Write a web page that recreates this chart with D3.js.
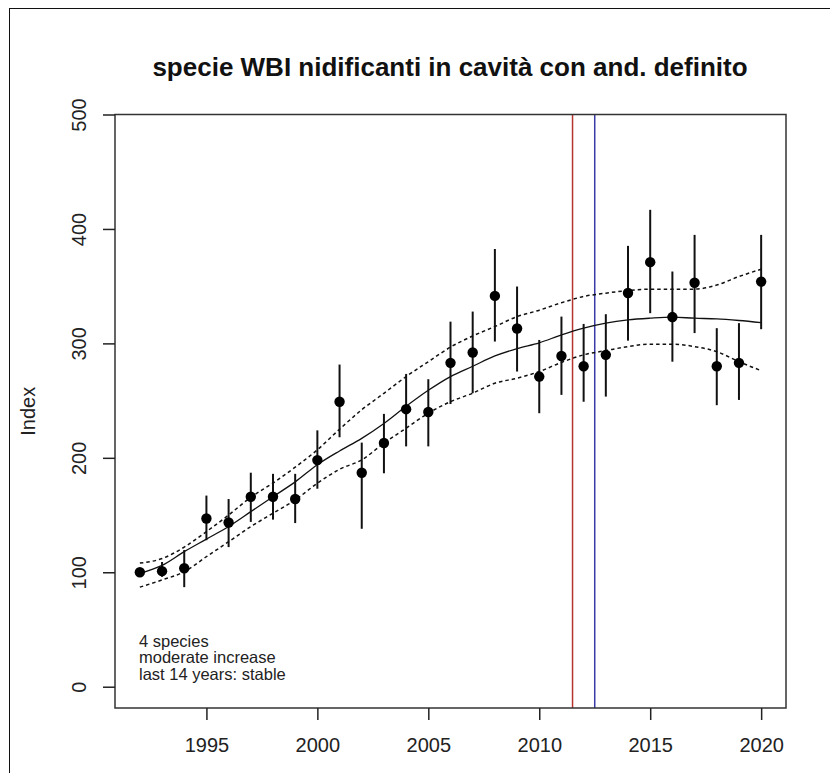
<!DOCTYPE html>
<html>
<head>
<meta charset="utf-8">
<script src="https://cdn.jsdelivr.net/npm/d3@7"></script>
<style>
  body { margin: 0; background: #fff; }
  svg { display: block; font-family: "Liberation Sans", Arial, sans-serif; }
</style>
</head>
<body>
<svg id="chart" width="830" height="773"></svg>
<script>
// index values
var years = [1992,1993,1994,1995,1996,1997,1998,1999,2000,2001,2002,2003,2004,2005,2006,2007,2008,2009,2010,2011,2012,2013,2014,2015,2016,2017,2018,2019,2020];
var index = [100,101,103.5,147,143.5,166,166,164,198,249,187,213,242.5,240,283,292,341.5,313,271,289,280,290,344,371,323,353,280,283,354];
var lower = [100,96,87,128,122,144,146,143,173,218,138,186.5,210,210,247,256.5,301.6,275.4,239,255,249,253.5,302.4,326.4,284,309,246,250.6,312.4];
var upper = [100,109,119.5,167,164,187,186,186,224,281.5,213.3,238.4,273.3,268.7,319,327.8,382.5,349.7,303,323.4,317,325.5,385.2,416.7,362.8,394.8,313.3,317.7,394.8];

// smoothed trend and its band
var trend     = [99,106,118,129,140,153,166,179,194,206,217,230,245,259,271,280,289,295.5,300.5,307.4,313.3,317.7,320.5,322,322.9,322,321.4,320,318.2];
var bandUpper = [108,112,122,135.5,150,165.5,178,191.8,207,225,242,256.4,271,284,296.7,306.5,314.7,323.4,329,335.5,341,343.9,346.2,347.4,347.4,347.4,351,358.4,364.8];
var bandLower = [87,93.3,100.5,113.6,126.7,139.9,151.6,163.2,177.8,190,198.2,212.8,225.9,239,249.1,256.5,265.2,269.6,275.4,283.4,290,293.7,297.2,299.3,299.3,297.2,292.8,284,276.2];

var xTicks = [1995,2000,2005,2010,2015,2020];
var yTicks = [0,100,200,300,400,500];
var markers = [{year: 2011.5, color: "#b8352f"}, {year: 2012.5, color: "#3a3aa6"}];
var notes = ["4 species", "moderate increase", "last 14 years: stable"];
var title = "specie WBI nidificanti in cavità con and. definito";

var svg = d3.select("#chart");

// outer frame of the plot window
svg.append("rect")
    .attr("x", 9.5).attr("y", 8.5)
    .attr("width", 840).attr("height", 800)
    .attr("fill", "none").attr("stroke", "#111").attr("stroke-width", 1);

var x = d3.scaleLinear().domain([1990.88, 2021.12]).range([115, 786]);
var y = d3.scaleLinear().domain([-18.6, 500]).range([708, 114.5]);

var data = years.map(function (d, i) {
    return {year: d, v: index[i], lo: lower[i], hi: upper[i],
            t: trend[i], bu: bandUpper[i], bl: bandLower[i]};
});

// vertical reference lines
svg.selectAll("line.marker")
    .data(markers)
    .enter().append("line")
    .attr("class", "marker")
    .attr("x1", function (d) { return x(d.year); })
    .attr("x2", function (d) { return x(d.year); })
    .attr("y1", y(500)).attr("y2", y(-18.6))
    .attr("stroke", function (d) { return d.color; })
    .attr("stroke-width", 1.5);

var line = function (key) {
    return d3.line()
        .x(function (d) { return x(d.year); })
        .y(function (d) { return y(d[key]); })
        .curve(d3.curveMonotoneX);
};

svg.append("path").datum(data)
    .attr("d", line("t"))
    .attr("fill", "none").attr("stroke", "#111").attr("stroke-width", 1.3);

["bu", "bl"].forEach(function (k) {
    svg.append("path").datum(data)
        .attr("d", line(k))
        .attr("fill", "none").attr("stroke", "#111")
        .attr("stroke-width", 1.5)
        .attr("stroke-dasharray", "3.5,3");
});

// error bars
svg.selectAll("line.err")
    .data(data)
    .enter().append("line")
    .attr("class", "err")
    .attr("x1", function (d) { return x(d.year); })
    .attr("x2", function (d) { return x(d.year); })
    .attr("y1", function (d) { return y(d.lo); })
    .attr("y2", function (d) { return y(d.hi); })
    .attr("stroke", "#111").attr("stroke-width", 2);

svg.selectAll("circle.pt")
    .data(data)
    .enter().append("circle")
    .attr("class", "pt")
    .attr("cx", function (d) { return x(d.year); })
    .attr("cy", function (d) { return y(d.v); })
    .attr("r", 5.2)
    .attr("fill", "#000");

// plot box
svg.append("rect")
    .attr("x", x(1990.88)).attr("y", y(500))
    .attr("width", x(2021.12) - x(1990.88))
    .attr("height", y(-18.6) - y(500))
    .attr("fill", "none").attr("stroke", "#333").attr("stroke-width", 1.5);

// x axis
var xAxis = svg.append("g")
    .attr("transform", "translate(0," + y(-18.6) + ")")
    .call(d3.axisBottom(x).tickValues(xTicks).tickFormat(d3.format("d"))
        .tickSize(12).tickPadding(18));
xAxis.select(".domain").remove();
xAxis.selectAll(".tick line").attr("stroke", "#222").attr("stroke-width", 1.5);
xAxis.selectAll(".tick text").attr("font-size", 20).attr("fill", "#222")
    .attr("font-family", "Liberation Sans, Arial, sans-serif");

// y axis, labels rotated like R's default las=0
var yAxis = svg.append("g")
    .attr("transform", "translate(" + x(1990.88) + ",0)")
    .call(d3.axisLeft(y).tickValues(yTicks).tickSize(12).tickFormat(d3.format("d")));
yAxis.select(".domain").remove();
yAxis.selectAll(".tick line").attr("stroke", "#222").attr("stroke-width", 1.5);
yAxis.selectAll(".tick text")
    .attr("font-size", 20).attr("fill", "#222")
    .attr("font-family", "Liberation Sans, Arial, sans-serif")
    .attr("x", null).attr("dy", null)
    .attr("text-anchor", "middle")
    .attr("transform", "translate(-29,0) rotate(-90)");

svg.append("text")
    .attr("transform", "translate(35," + (y(-18.6) + y(500)) / 2 + ") rotate(-90)")
    .attr("text-anchor", "middle")
    .attr("font-size", 20).attr("fill", "#222")
    .text("Index");

svg.append("text")
    .attr("x", 450).attr("y", 76)
    .attr("text-anchor", "middle")
    .attr("font-size", 26).attr("font-weight", "bold")
    .attr("fill", "#111")
    .text(title);

svg.selectAll("text.note")
    .data(notes)
    .enter().append("text")
    .attr("class", "note")
    .attr("x", 139)
    .attr("y", function (d, i) { return 646.5 + i * 16.7; })
    .attr("font-size", 16.5).attr("fill", "#222")
    .text(function (d) { return d; });
</script>
</body>
</html>
